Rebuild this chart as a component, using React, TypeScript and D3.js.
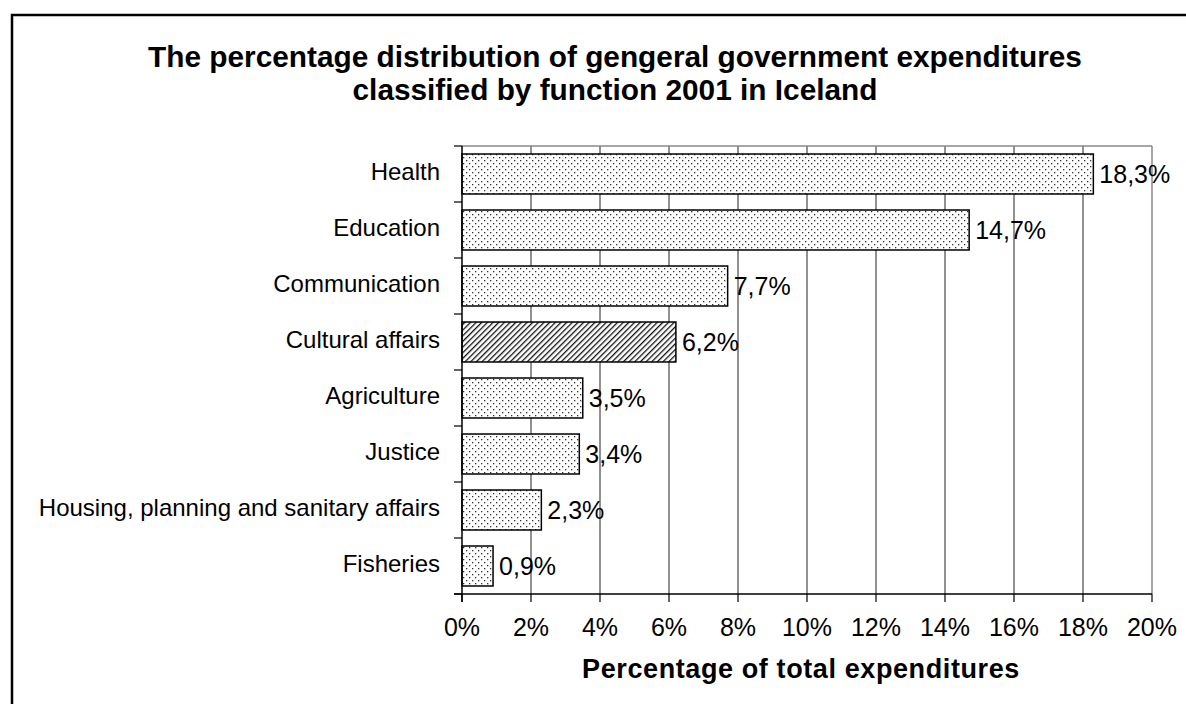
import React from "react";
import * as d3 from "d3";

const categories = ["Health", "Education", "Communication", "Cultural affairs", "Agriculture", "Justice", "Housing, planning and sanitary affairs", "Fisheries"];
const values = [18.3, 14.7, 7.7, 6.2, 3.5, 3.4, 2.3, 0.9];
const valueLabels = ["18,3%", "14,7%", "7,7%", "6,2%", "3,5%", "3,4%", "2,3%", "0,9%"];
const highlighted = ["Cultural affairs"];
const xTicks = [0, 2, 4, 6, 8, 10, 12, 14, 16, 18, 20];
const titleLines = ["The percentage distribution of gengeral government expenditures", "classified by function 2001 in Iceland"];
const xTitle = "Percentage of total expenditures";

export default function App() {
  const W = 1186, H = 704;
  const left = 462, right = 1152, top = 146, bottom = 594;
  const x = d3.scaleLinear().domain([0, 20]).range([left, right]);
  const y = d3.scaleBand().domain(categories).range([top, bottom]).paddingInner(0.286).paddingOuter(0.143);
  const font = "Arial, 'Liberation Sans', sans-serif";
  return (
    <svg width={W} height={H} style={{ position: "absolute", left: 0, top: 0 }} fontFamily={font}>
      <defs>
        <pattern id="dots" width="6" height="6" patternUnits="userSpaceOnUse">
          <rect width="6" height="6" fill="#fff" />
          <rect x="1" y="1" width="1.3" height="1.3" fill="#333" />
          <rect x="4" y="4" width="1.3" height="1.3" fill="#333" />
        </pattern>
        <pattern id="hatch" width="4" height="4" patternUnits="userSpaceOnUse" patternTransform="rotate(45)">
          <rect width="4" height="4" fill="#fff" />
          <line x1="0" y1="0" x2="0" y2="4" stroke="#111" strokeWidth="2.6" />
        </pattern>
      </defs>
      <rect x={0} y={0} width={W} height={H} fill="#fff" />
      <rect x={12} y={15} width={W + 20} height={H + 20} fill="none" stroke="#000" strokeWidth={2.5} />
      {titleLines.map((t, i) => (
        <text key={i} x={615} y={67 + i * 33} textAnchor="middle" fontSize={29.8} fontWeight="bold">{t}</text>
      ))}
      {/* gridlines */}
      {xTicks.slice(1, -1).map((t) => (
        <line key={t} x1={x(t)} x2={x(t)} y1={top} y2={bottom} stroke="#222" strokeWidth={1} />
      ))}
      <line x1={left} x2={right} y1={top} y2={top} stroke="#888" strokeWidth={1.5} />
      <line x1={right} x2={right} y1={top} y2={bottom} stroke="#888" strokeWidth={1.5} />
      {/* bars */}
      {categories.map((c, i) => (
        <g key={c}>
          <rect x={x(0)} y={y(c)} width={x(values[i]) - x(0)} height={y.bandwidth()}
            fill={highlighted.includes(c) ? "url(#hatch)" : "url(#dots)"} stroke="#000" strokeWidth={1.5} />
          <text x={x(values[i]) + 6} y={(y(c) as number) + y.bandwidth() / 2 + 9} fontSize={25}>{valueLabels[i]}</text>
          <text x={440} y={(y(c) as number) + y.bandwidth() / 2 + 6} fontSize={24} textAnchor="end">{c}</text>
        </g>
      ))}
      {/* y axis */}
      <line x1={left} x2={left} y1={top} y2={bottom + 8} stroke="#000" strokeWidth={1.5} />
      {d3.range(categories.length + 1).map((i) => {
        const yy = top + i * y.step();
        return <line key={i} x1={left - 8} x2={left} y1={yy} y2={yy} stroke="#000" strokeWidth={1.2} />;
      })}
      {/* x axis */}
      <line x1={left - 8} x2={right} y1={bottom} y2={bottom} stroke="#000" strokeWidth={1.5} />
      {xTicks.map((t) => (
        <g key={t}>
          <line x1={x(t)} x2={x(t)} y1={bottom} y2={bottom + 8} stroke="#000" strokeWidth={1.2} />
          <text x={x(t)} y={bottom + 42} textAnchor="middle" fontSize={25}>{t}%</text>
        </g>
      ))}
      <text x={801} y={678} textAnchor="middle" fontSize={27} fontWeight="bold" letterSpacing={0.6}>{xTitle}</text>
    </svg>
  );
}
